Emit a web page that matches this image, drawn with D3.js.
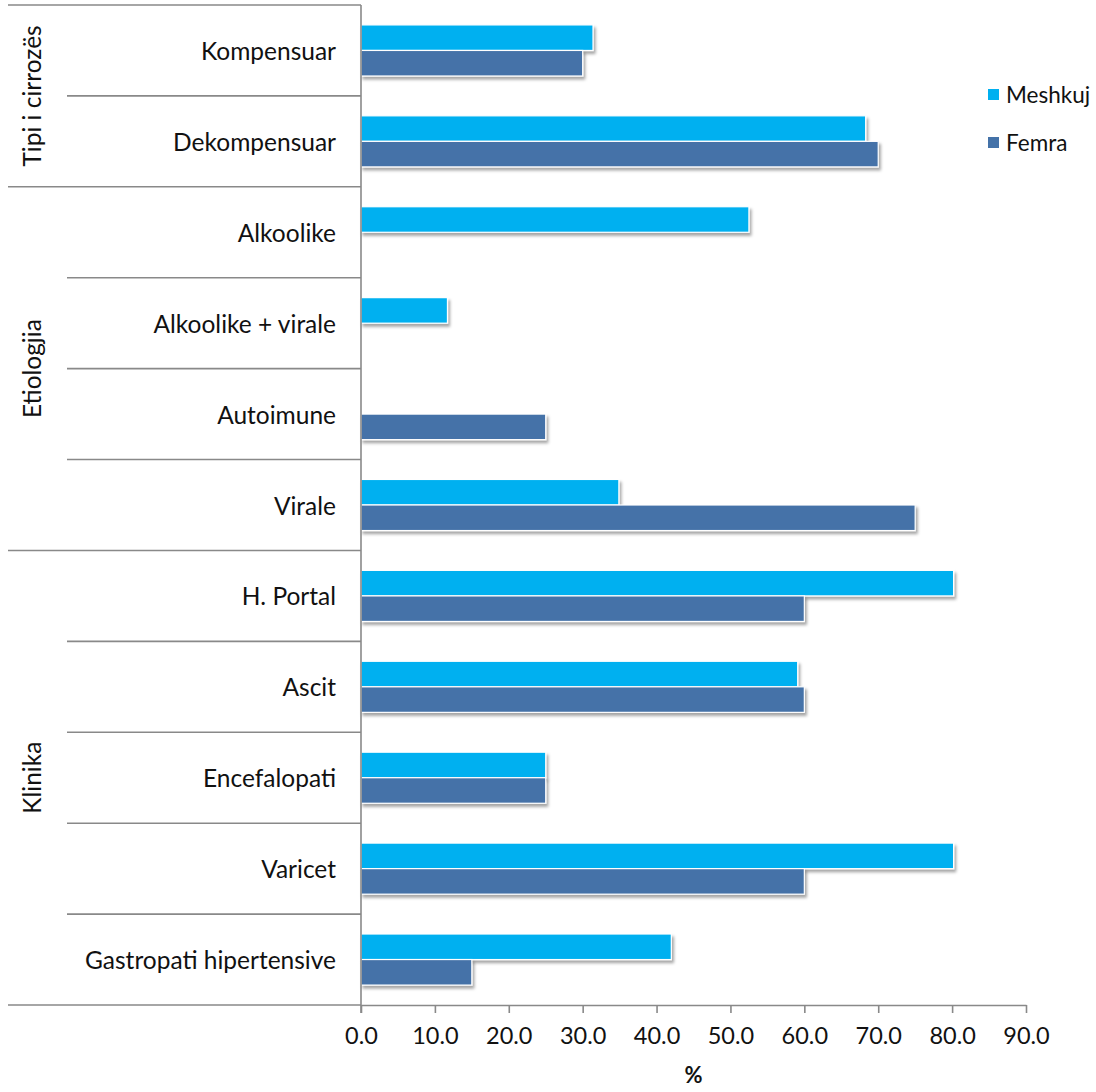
<!DOCTYPE html>
<html>
<head>
<meta charset="utf-8">
<script src="https://cdn.jsdelivr.net/npm/d3@7"></script>
<style>
  html, body { margin: 0; padding: 0; background: #fff; }
  svg text { font-family: Lato, "Open Sans", sans-serif; fill: #111; }
</style>
</head>
<body>
<svg id="chart" width="1096" height="1092"></svg>
<script>
// Categories, top to bottom
const categories = [
  "Kompensuar", "Dekompensuar",
  "Alkoolike", "Alkoolike + virale", "Autoimune", "Virale",
  "H. Portal", "Ascit", "Encefalopati", "Varicet", "Gastropati hipertensive"
];
// Category groups and how many categories each spans
const groupNames = ["Tipi i cirrozës", "Etiologjia", "Klinika"];
const groupSizes = [2, 4, 5];

// Series values (%), null where no bar is shown
const seriesNames = ["Meshkuj", "Femra"];
const meshkuj = [31.4, 68.3, 52.5, 11.7, null, 34.9, 80.2, 59.1, 25.0, 80.2, 42.0];
const femra   = [30.0, 70.0, null, null, 25.0, 75.0, 60.0, 60.0, 25.0, 60.0, 15.0];

const xTicks = [0, 10, 20, 30, 40, 50, 60, 70, 80, 90];
const xTitle = "%";

const colors = { "Meshkuj": "#00B0F0", "Femra": "#4472A8" };
const gridColor = "#898989";

const svg = d3.select("#chart");
const plot = { left: 361, right: 1026, top: 5, bottom: 1005 };

const x = d3.scaleLinear().domain([0, 90]).range([plot.left, plot.right]);
const y = d3.scaleBand().domain(categories).range([plot.top, plot.bottom]);
const ySub = d3.scaleBand().domain(seriesNames).range([0, y.bandwidth()]).paddingOuter(0.78).paddingInner(0);

// soft drop shadow under the bars
const defs = svg.append("defs");
const f = defs.append("filter").attr("id", "shadow")
  .attr("x", "-5%").attr("y", "-30%").attr("width", "115%").attr("height", "180%");
f.append("feDropShadow").attr("dx", 2).attr("dy", 3).attr("stdDeviation", 1.8)
  .attr("flood-color", "#000").attr("flood-opacity", 0.35);

// rows: one entry per category and series
const rows = [];
categories.forEach((c, i) => {
  rows.push({ cat: c, series: "Meshkuj", value: meshkuj[i] });
  rows.push({ cat: c, series: "Femra", value: femra[i] });
});

// bars
svg.append("g").selectAll("rect")
  .data(rows.filter(d => d.value != null))
  .join("rect")
  .attr("x", x(0))
  .attr("y", d => y(d.cat) + ySub(d.series))
  .attr("width", d => x(d.value) - x(0))
  .attr("height", ySub.bandwidth())
  .attr("fill", d => colors[d.series])
  .attr("stroke", "#fff")
  .attr("stroke-width", 1.2)
  .attr("filter", "url(#shadow)");

// separator lines in the category label area
const sep = svg.append("g").attr("stroke", gridColor).attr("stroke-width", 1.6);
const groupStarts = [];
let acc = 0;
groupSizes.forEach(n => { groupStarts.push(acc); acc += n; });
categories.forEach((c, i) => {
  const isGroupStart = groupStarts.includes(i);
  sep.append("line")
    .attr("x1", isGroupStart ? 8 : 67).attr("x2", plot.left)
    .attr("y1", y(c)).attr("y2", y(c));
});
sep.append("line").attr("x1", 8).attr("x2", plot.left)
  .attr("y1", plot.bottom).attr("y2", plot.bottom);

// category labels
svg.append("g").selectAll("text")
  .data(categories)
  .join("text")
  .attr("x", 336)
  .attr("y", d => y(d) + y.bandwidth() / 2)
  .attr("text-anchor", "end")
  .attr("dominant-baseline", "central")
  .attr("font-size", 24.5)
  .text(d => d);

// group labels (rotated)
svg.append("g").selectAll("text")
  .data(groupNames)
  .join("text")
  .attr("transform", (d, i) => {
    const first = categories[groupStarts[i]];
    const last = categories[groupStarts[i] + groupSizes[i] - 1];
    const cy = (y(first) + y(last) + y.bandwidth()) / 2;
    return `translate(31,${cy}) rotate(-90)`;
  })
  .attr("text-anchor", "middle")
  .attr("dominant-baseline", "central")
  .attr("font-size", 24.5)
  .text(d => d);

// x axis
const xAxis = svg.append("g")
  .attr("transform", `translate(0,${plot.bottom})`)
  .call(d3.axisBottom(x).tickValues(xTicks).tickFormat(d3.format(".1f")).tickSize(8).tickSizeOuter(0));
xAxis.select(".domain").attr("stroke", gridColor).attr("stroke-width", 1.6);
xAxis.selectAll(".tick line").attr("stroke", gridColor).attr("stroke-width", 1.6);
xAxis.selectAll(".tick text")
  .attr("font-size", 23.5).attr("y", 22).attr("dy", "0.71em")
  .style("font-family", "Lato, 'Open Sans', sans-serif").attr("fill", "#111");

// vertical category axis line
svg.append("line")
  .attr("x1", plot.left).attr("x2", plot.left)
  .attr("y1", plot.top).attr("y2", plot.bottom + 8)
  .attr("stroke", gridColor).attr("stroke-width", 1.6);

// x axis title
svg.append("text")
  .attr("x", (plot.left + plot.right) / 2)
  .attr("y", 1083)
  .attr("text-anchor", "middle")
  .attr("font-size", 22)
  .attr("font-weight", "bold")
  .text(xTitle);

// legend
const legend = svg.append("g").selectAll("g")
  .data(seriesNames)
  .join("g")
  .attr("transform", (d, i) => `translate(988,${89 + i * 48})`);
legend.append("rect").attr("width", 11).attr("height", 11).attr("fill", d => colors[d]);
legend.append("text").attr("x", 18).attr("y", 5.5)
  .attr("dominant-baseline", "central").attr("font-size", 22.5).text(d => d);
</script>
</body>
</html>
